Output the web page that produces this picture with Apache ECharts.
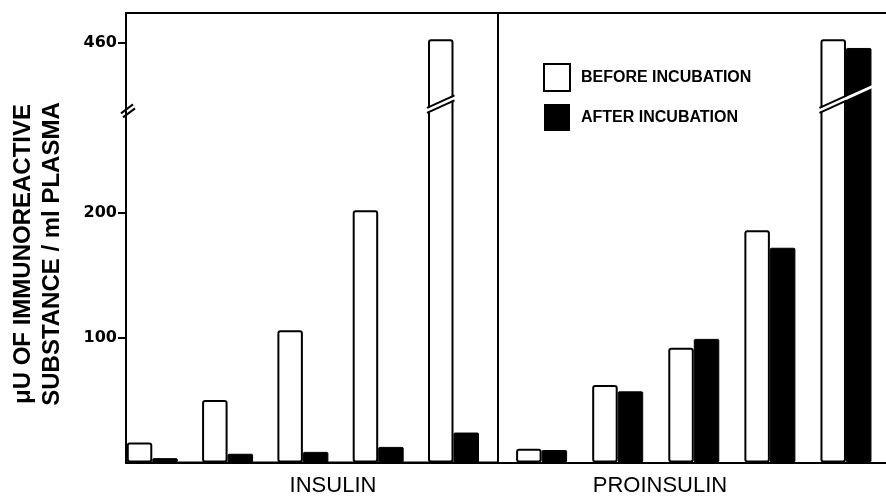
<!DOCTYPE html>
<html><head><meta charset="utf-8">
<script src="https://cdn.jsdelivr.net/npm/echarts@6/dist/echarts.min.js"></script>
<style>html,body{margin:0;padding:0;background:#fff}#c{width:886px;height:497px}</style>
</head><body><div id="c"></div>
<script>
const groupNames = ['INSULIN', 'PROINSULIN'];
const seriesNames = ['BEFORE INCUBATION', 'AFTER INCUBATION'];
const samplePositions = [0, 1, 2, 3, 4];
const insulinBefore = [16, 50, 106, 202, 463];
const insulinAfter = [3.5, 7, 8.5, 12.5, 24];
const proinsulinBefore = [11, 62, 92, 186, 463];
const proinsulinAfter = [10, 57, 99, 172, 456];
const yTickValues = [100, 200, 460];
const yBreakStart = 282, yBreakEnd = 409;
const yTitleLines = ['\u03bcU OF IMMUNOREACTIVE', 'SUBSTANCE / ml PLASMA'];

const chart = echarts.init(document.getElementById('c'), null, {renderer: 'canvas'});
const BW = 25.5;
const whiteStyle = {color: '#fff', borderColor: '#000', borderWidth: 2, borderRadius: 2};
const blackStyle = {color: '#000', borderColor: '#000', borderWidth: 1, borderRadius: 1};
const pairs = (arr) => arr.map((v, i) => [samplePositions[i], v]);
const lineStyle = {color: '#000', width: 2};
const yAxisBase = (gi, showLabels) => ({
  gridIndex: gi, type: 'value', min: 0, max: 484,
  breaks: [{start: yBreakStart, end: yBreakEnd, gap: 3}],
  breakArea: {show: false},
  axisLine: {show: false, onZero: false},
  axisTick: {show: showLabels, customValues: yTickValues, length: 8, lineStyle: lineStyle},
  axisLabel: {show: showLabels, customValues: yTickValues, color: '#000', fontFamily: 'DejaVu Sans', fontWeight: 'bold', fontSize: 16, margin: 9},
  splitLine: {show: false}
});
const xRange = [{min: -0.349, max: 4.591}, {min: -0.573, max: 4.526}];
const xAxisLineOnly = (gi, pos) => ({
  gridIndex: gi, type: 'value', position: pos, min: xRange[gi].min, max: xRange[gi].max,
  axisLine: {show: true, onZero: false, lineStyle: lineStyle},
  axisTick: {show: false}, axisLabel: {show: false}, splitLine: {show: false}
});
const option = {
  backgroundColor: '#fff',
  animation: false,
  grid: [
    {left: 126, top: 13, width: 372, height: 449.5, show: true, borderColor: '#000', borderWidth: 2, backgroundColor: 'transparent'},
    {left: 498, top: 13, width: 388, height: 449.5, show: false}
  ],
  xAxis: [xAxisLineOnly(0, 'bottom'), xAxisLineOnly(1, 'bottom'), xAxisLineOnly(1, 'top')],
  yAxis: [yAxisBase(0, true), yAxisBase(1, false)],
  legend: {
    left: 543, top: 63, padding: 0, orient: 'vertical', itemWidth: 26, itemHeight: 27, itemGap: 12,
    icon: 'rect', selectedMode: false,
    textStyle: {color: '#000', fontFamily: 'Liberation Sans', fontWeight: 'bold', fontSize: 16, padding: [0, 0, 0, 6]},
    data: [
      {name: seriesNames[0], itemStyle: {color: '#fff', borderColor: '#000', borderWidth: 2}},
      {name: seriesNames[1], itemStyle: {color: '#000', borderColor: '#000', borderWidth: 0}}
    ]
  },
  series: [
    {type: 'bar', name: seriesNames[0], xAxisIndex: 0, yAxisIndex: 0, data: pairs(insulinBefore), barWidth: BW, barGap: '0%', itemStyle: whiteStyle},
    {type: 'bar', name: seriesNames[1], xAxisIndex: 0, yAxisIndex: 0, data: pairs(insulinAfter), barWidth: BW, barGap: '0%', itemStyle: blackStyle},
    {type: 'bar', name: seriesNames[0], xAxisIndex: 1, yAxisIndex: 1, data: pairs(proinsulinBefore), barWidth: BW, barGap: '0%', itemStyle: whiteStyle},
    {type: 'bar', name: seriesNames[1], xAxisIndex: 1, yAxisIndex: 1, data: pairs(proinsulinAfter), barWidth: BW, barGap: '0%', itemStyle: blackStyle}
  ]
};
chart.setOption(option);

// decorations computed from the library's scales
const groups = [{before: insulinBefore, after: insulinAfter}, {before: proinsulinBefore, after: proinsulinAfter}];
const gfx = [];
const breakPx = chart.convertToPixel({yAxisIndex: 0}, yBreakStart);
const axisPx = chart.convertToPixel({xAxisIndex: 0}, xRange[0].min);
const yCut = breakPx - 12;
const slope = 0.45;
groups.forEach((grp, gi) => {
  grp.before.forEach((v, i) => {
    const cx = chart.convertToPixel({xAxisIndex: gi}, samplePositions[i]);
    const yAt = x => yCut - slope * (x - cx);
    const bars = [];
    if (v > yBreakEnd) bars.push({x0: cx - BW, x1: cx, white: true});
    if (grp.after[i] > yBreakEnd) bars.push({x0: cx, x1: cx + BW, white: false});
    bars.forEach(b => {
      const xa = b.x0 - 1.5, xb = b.x1 + 1.5;
      gfx.push({type: 'polygon', z: 100, shape: {points: [[xa, yAt(xa) - 1.6], [xb, yAt(xb) - 1.6], [xb, yAt(xb) + 1.6], [xa, yAt(xa) + 1.6]]}, style: {fill: '#fff'}});
      if (b.white) {
        [-2.5, 2.5].forEach(o => {
          gfx.push({type: 'line', z: 101, shape: {x1: b.x0 - 1, y1: yAt(b.x0 - 1) + o, x2: b.x1 + 1, y2: yAt(b.x1 + 1) + o}, style: {stroke: '#000', lineWidth: 2}});
        });
      }
    });
  });
});
// axis break marks
[[-5, 3, 7, -6], [-3, 7, 9, -2]].forEach(p => {
  gfx.push({type: 'line', z: 101, shape: {x1: axisPx + p[0], y1: breakPx + p[1], x2: axisPx + p[2], y2: breakPx + p[3]}, style: {stroke: '#000', lineWidth: 2}});
});
// axis title and group labels
gfx.push({type: 'text', z: 101, x: 38, y: 254, rotation: Math.PI / 2,
  style: {text: yTitleLines.join('\n'), fill: '#000', font: 'bold 24px "Liberation Sans"', align: 'center', verticalAlign: 'middle', lineHeight: 29}});
const labelX = [333, 660];
groupNames.forEach((n, gi) => {
  gfx.push({type: 'text', z: 101, x: labelX[gi], y: 486,
    style: {text: n, fill: '#000', font: '22px "Liberation Sans"', align: 'center', verticalAlign: 'middle'}});
});
chart.setOption({graphic: gfx});
</script>
</body></html>
